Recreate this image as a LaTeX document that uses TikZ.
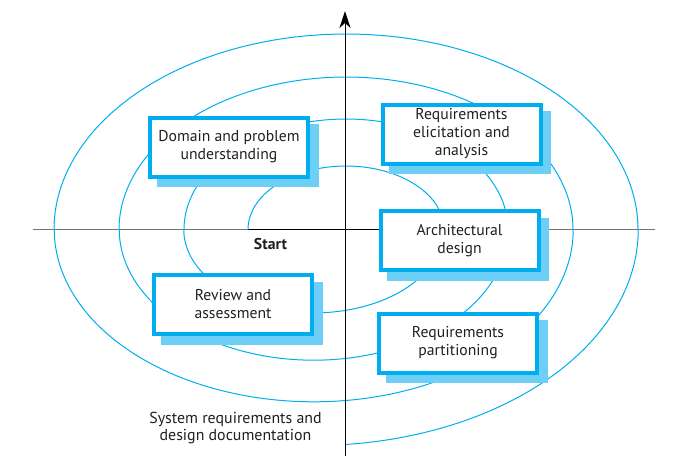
\documentclass[tikz,border=0pt]{standalone}
\usepackage{fontspec}
\setmainfont{PT Sans}
\usetikzlibrary{shadows,arrows.meta}
\definecolor{cy}{HTML}{00AEEF}
\definecolor{cysh}{HTML}{6DCFF6}
\definecolor{txt}{HTML}{231F20}
\tikzset{
  box/.style={draw=cy, line width=4pt, fill=white, minimum width=158pt, minimum height=59pt,
    inner sep=0pt, align=center, text=txt, font=\fontsize{15.7}{18}\selectfont,
    general shadow={fill=cysh, draw=cysh, line width=4pt, shadow xshift=8.5pt, shadow yshift=-8.5pt}},
  spiral/.style={draw=cy, line width=1pt},
  axisgray/.style={draw=black!55, line width=1.2pt},
  axisblack/.style={draw=black, line width=1pt},
  lbl/.style={text=txt, font=\fontsize{15.9}{16.5}\selectfont, align=center, inner sep=0pt}
}
\begin{document}
\begin{tikzpicture}[x=1pt,y=-1pt]
\useasboundingbox (0,0) rectangle (674,472);
% horizontal axis
\coordinate (hl) at (33,229.5);
\coordinate (hs) at (248,229.5);
\coordinate (hm) at (547,229.5);
\coordinate (hr) at (655,229.5);
\draw[axisgray] (hl) -- (hs);
\draw[axisblack] (hs) -- (hm);
\draw[axisgray] (hm) -- (hr);
% spiral
\def\H{229.5}
\def\cA{346}
\def\cB{313.75}
\draw[spiral, smooth, samples=60]
  plot[domain=180:360] ({\cA+98*cos(\x)},{\H+63.5*sin(\x)})
  -- plot[domain=0:180] ({\cB+130*cos(\x)},{\H+83.4*sin(\x)})
  -- plot[domain=180:360] ({\cA+162*cos(\x)},{\H+110.5*sin(\x)})
  -- plot[domain=0:180] ({\cB+194.5*cos(\x)},{\H+130.7*sin(\x)})
  -- plot[domain=180:360] ({\cA+227*cos(\x)},{\H+152.5*sin(\x)})
  -- plot[domain=0:180] ({\cB+259.5*cos(\x)},{\H+172.3*sin(\x)})
  -- plot[domain=180:360] ({\cA+292*cos(\x)},{\H+195.5*sin(\x)})
  -- plot[domain=0:84.4] ({\cB+324.5*cos(\x)},{\H+216*sin(\x)});
% vertical axis
\coordinate (vb) at (345,456);
\coordinate (vt) at (345,11);
\draw[axisblack, -{Stealth[length=17pt,width=11pt,inset=5pt]}] (vb) -- (vt);
% boxes
\node[box] (dom) at (229,147) {Domain and problem\\understanding};
\node[box] (rea) at (461.5,134) {Requirements\\elicitation and\\analysis};
\node[box] (arc) at (459.5,240.5) {Architectural\\design};
\node[box] (rep) at (458,343) {Requirements\\partitioning};
\node[box] (rev) at (233,304.5) {Review and\\assessment};
% labels
\node[lbl, font=\bfseries\fontsize{15.7}{16.5}\selectfont] (start) at (270.5,244) {Start};
\node[lbl] (doc) at (235.5,428) {System requirements and\\design documentation};
\end{tikzpicture}
\end{document}
